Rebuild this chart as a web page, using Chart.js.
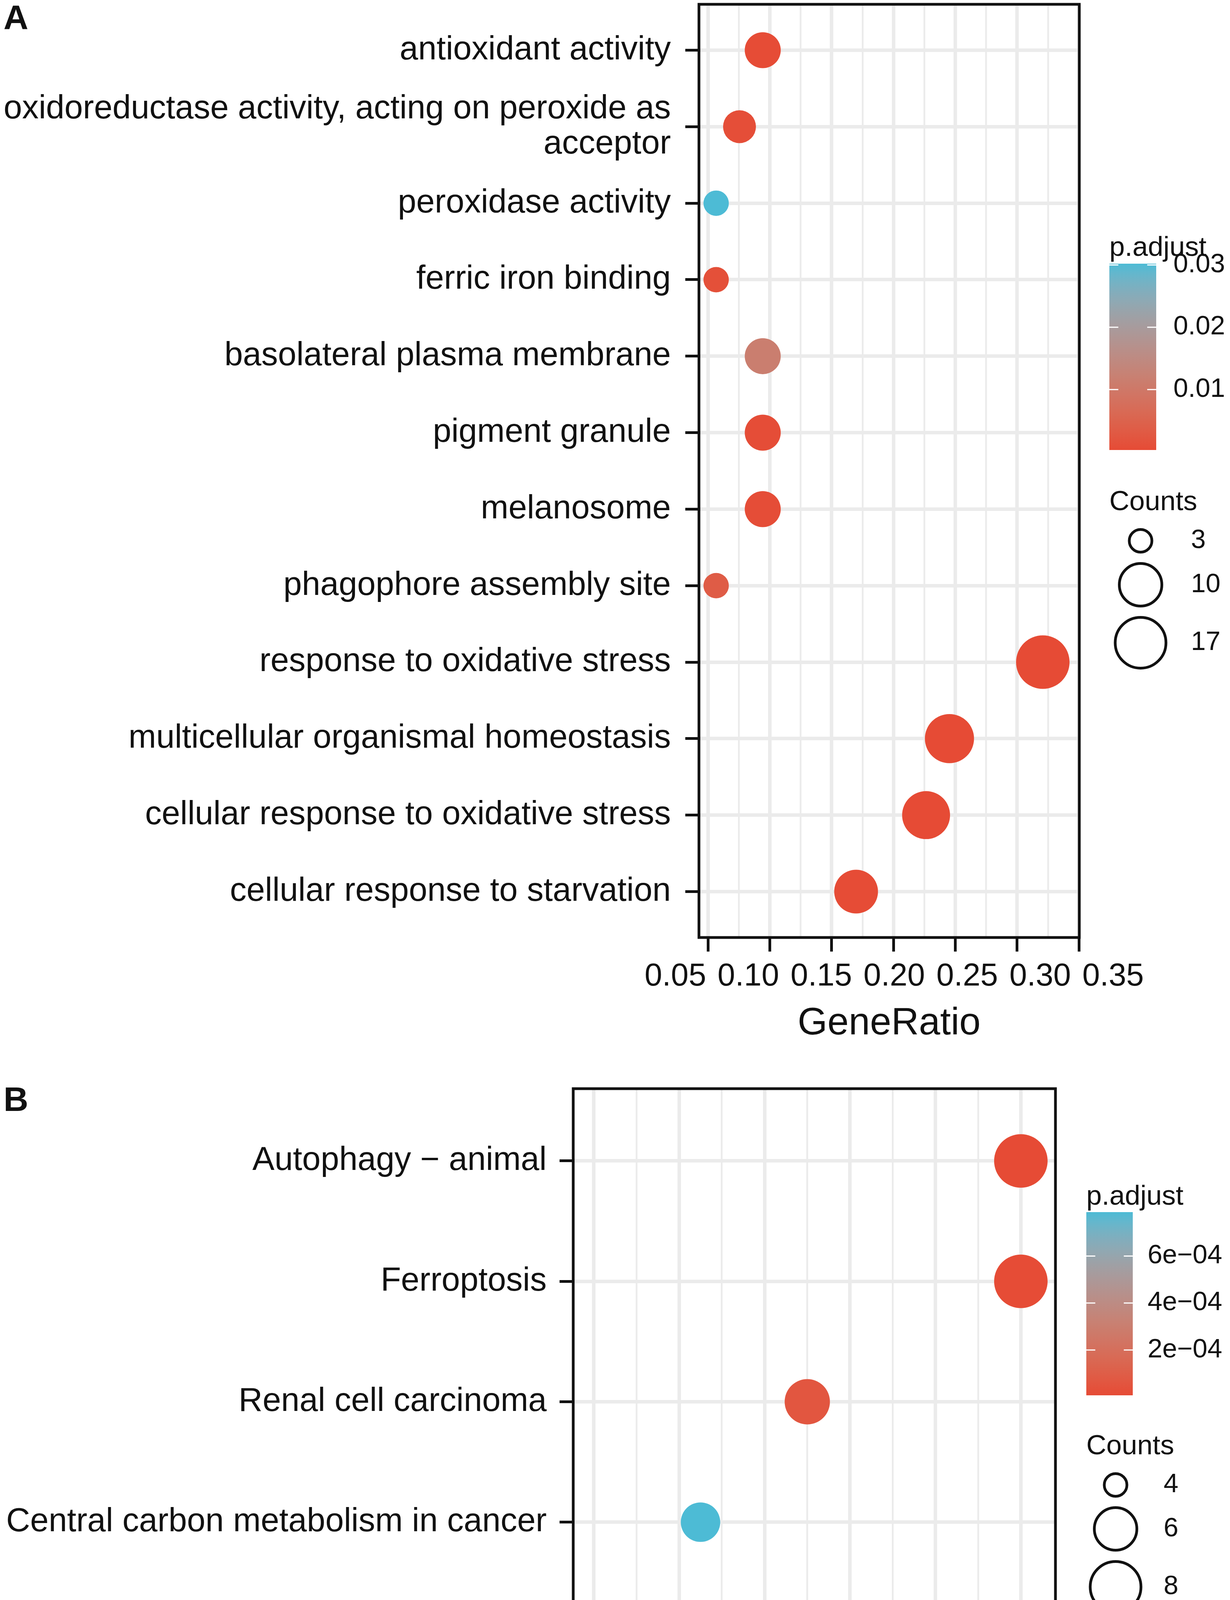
<!DOCTYPE html>
<html>
<head>
<meta charset="utf-8">
<script src="https://cdn.jsdelivr.net/npm/chart.js@4.4.1/dist/chart.umd.min.js"></script>
<style>
  html, body { margin: 0; padding: 0; background: #fff; }
  body { width: 3150px; height: 4646px; position: relative; overflow: hidden; }
  .panel { position: absolute; left: 0; width: 3150px; }
  #wrapA { top: 0; height: 2760px; }
  #wrapB { top: 2760px; height: 1886px; }
</style>
</head>
<body>
<div class="panel" id="wrapA"><canvas id="chartA"></canvas></div>
<div class="panel" id="wrapB"><canvas id="chartB"></canvas></div>
<script>
// ---- panel A: GO terms ----
const termsA = [
    'antioxidant activity',
    'oxidoreductase activity, acting on peroxide as acceptor',
    'peroxidase activity',
    'ferric iron binding',
    'basolateral plasma membrane',
    'pigment granule',
    'melanosome',
    'phagophore assembly site',
    'response to oxidative stress',
    'multicellular organismal homeostasis',
    'cellular response to oxidative stress',
    'cellular response to starvation'
];
const geneRatioA = [0.0943, 0.0755, 0.0566, 0.0566, 0.0943, 0.0943, 0.0943, 0.0566, 0.3208, 0.2453, 0.2264, 0.1698];
const countA = [5, 4, 3, 3, 5, 5, 5, 3, 17, 13, 12, 9];
const pAdjustA = [0.0005, 0.0008, 0.0302, 0.0011, 0.0115, 0.0006, 0.0006, 0.0035, 0.0003, 0.0003, 0.0003, 0.0004];
const xTicksA = [0.05, 0.10, 0.15, 0.20, 0.25, 0.30, 0.35];
const colourBreaksA = [0.01, 0.02, 0.03];
const colourLabelsA = ['0.01', '0.02', '0.03'];
const sizeBreaksA = [3, 10, 17];

// ---- panel B: KEGG pathways ----
const termsB = [
    'Autophagy \u2212 animal',
    'Ferroptosis',
    'Renal cell carcinoma',
    'Central carbon metabolism in cancer',
    'Autophagy \u2212 other'
];
const geneRatioB = [0.20, 0.20, 0.15, 0.125, 0.10];
const countB = [8, 8, 6, 5, 4];
const pAdjustB = [0.000007, 0.000010, 0.000060, 0.000787, 0.000740];
const xTicksB = [0.10, 0.12, 0.14, 0.16, 0.18, 0.20];
const colourBreaksB = [0.0002, 0.0004, 0.0006];
const colourLabelsB = ['2e\u221204', '4e\u221204', '6e\u221204'];
const sizeBreaksB = [4, 6, 8];

const FONT = '"Liberation Sans", Arial, Helvetica, sans-serif';
const INK = '#111';
const LOW = '#E64B35';
const HIGH = '#4DBBD5';
const TICK_FONT = 81;

Chart.defaults.font.family = FONT;
Chart.defaults.color = INK;

// colour gradient interpolated in Lab space (like ggplot)
function toLab(hex) {
    const c = [1, 3, 5].map(i => parseInt(hex.substr(i, 2), 16) / 255)
        .map(v => v <= 0.04045 ? v / 12.92 : Math.pow((v + 0.055) / 1.055, 2.4));
    const X = (0.4124 * c[0] + 0.3576 * c[1] + 0.1805 * c[2]) / 0.95047;
    const Y = 0.2126 * c[0] + 0.7152 * c[1] + 0.0722 * c[2];
    const Z = (0.0193 * c[0] + 0.1192 * c[1] + 0.9505 * c[2]) / 1.08883;
    const f = t => t > 0.008856 ? Math.cbrt(t) : 7.787 * t + 16 / 116;
    return [116 * f(Y) - 16, 500 * (f(X) - f(Y)), 200 * (f(Y) - f(Z))];
}
function fromLab(L, a, b) {
    const fy = (L + 16) / 116, fx = fy + a / 500, fz = fy - b / 200;
    const inv = t => t * t * t > 0.008856 ? t * t * t : (t - 16 / 116) / 7.787;
    const X = inv(fx) * 0.95047, Y = inv(fy), Z = inv(fz) * 1.08883;
    const lin = [
        3.2406 * X - 1.5372 * Y - 0.4986 * Z,
        -0.9689 * X + 1.8758 * Y + 0.0415 * Z,
        0.0557 * X - 0.2040 * Y + 1.0570 * Z
    ];
    const rgb = lin.map(v => v <= 0.0031308 ? 12.92 * v : 1.055 * Math.pow(v, 1 / 2.4) - 0.055)
        .map(v => Math.round(Math.min(1, Math.max(0, v)) * 255));
    return `rgb(${rgb[0]}, ${rgb[1]}, ${rgb[2]})`;
}
const labLow = toLab(LOW), labHigh = toLab(HIGH);
function colourAt(t) {
    return fromLab(...labLow.map((v, i) => v + (labHigh[i] - v) * t));
}

// dot diameter in px, area-style size scale
function dotDiameter(count, lo, hi) {
    return 65 + 72 * Math.sqrt((count - lo) / (hi - lo));
}

function wrapLabel(text) {
    if (text.length <= 50) return text;
    const words = text.split(' ');
    const lines = [''];
    words.forEach(w => {
        const cur = lines[lines.length - 1];
        if (cur && (cur + ' ' + w).length > 47) lines.push(w);
        else lines[lines.length - 1] = cur ? cur + ' ' + w : w;
    });
    return lines;
}

// panel border + (optionally) x tick labels spread out like the original figure
const panelBox = {
    id: 'panelBox',
    afterDatasetsDraw(chart, args, o) {
        const {ctx, chartArea: a} = chart;
        ctx.save();
        ctx.strokeStyle = INK;
        ctx.lineWidth = 7;
        ctx.strokeRect(a.left, a.top, a.right - a.left, a.bottom - a.top);

        if (o.labelSpread) {
            const xs = chart.scales.x;
            const mid = (xs.left + xs.right) / 2;
            const y = xs.top + 36 + o.labelPad + TICK_FONT * 0.6;
            ctx.fillStyle = INK;
            ctx.font = `${TICK_FONT}px ${FONT}`;
            ctx.textAlign = 'center';
            ctx.textBaseline = 'middle';
            o.ticks.forEach(v => {
                const px = mid + (xs.getPixelForValue(v) - mid) * o.labelSpread;
                ctx.fillText(v.toFixed(2), px, y);
            });
        }
        ctx.restore();
    }
};

const dotLegend = {
    id: 'dotLegend',
    afterDraw(chart, args, o) {
        const ctx = chart.ctx;
        ctx.save();
        ctx.fillStyle = INK;
        ctx.textAlign = 'left';
        ctx.textBaseline = 'alphabetic';
        ctx.font = `bold ${o.tagSize}px ${FONT}`;
        ctx.fillText(o.tag, o.tagX, o.tagBaseline);

        // colour bar
        ctx.font = `${o.titleSize}px ${FONT}`;
        ctx.fillText('p.adjust', o.x, o.titleBaseline);
        const g = ctx.createLinearGradient(0, o.barBottom, 0, o.barTop);
        for (let i = 0; i <= 20; i++) g.addColorStop(i / 20, colourAt(i / 20));
        ctx.fillStyle = g;
        ctx.fillRect(o.x, o.barTop, o.barWidth, o.barBottom - o.barTop);
        const [lo, hi] = o.colourLimits;
        const yOf = v => o.barBottom - (v - lo) / (hi - lo) * (o.barBottom - o.barTop);
        ctx.strokeStyle = '#fff';
        ctx.lineWidth = 3;
        ctx.font = `${o.labelSize}px ${FONT}`;
        ctx.textBaseline = 'middle';
        o.colourBreaks.forEach((v, i) => {
            const y = yOf(v);
            if (y >= o.barTop && y <= o.barBottom) {
                ctx.beginPath();
                ctx.moveTo(o.x, y); ctx.lineTo(o.x + 23, y);
                ctx.moveTo(o.x + o.barWidth - 23, y); ctx.lineTo(o.x + o.barWidth, y);
                ctx.stroke();
            }
            ctx.fillStyle = INK;
            ctx.fillText(o.colourLabels[i], o.barLabelX, y);
        });

        // size legend
        ctx.textBaseline = 'alphabetic';
        ctx.font = `${o.titleSize}px ${FONT}`;
        ctx.fillText('Counts', o.x, o.countsBaseline);
        const [sLo, sHi] = o.sizeLimits;
        let prev = null, cy = 0;
        ctx.strokeStyle = INK;
        ctx.lineWidth = 7;
        ctx.textBaseline = 'middle';
        ctx.font = `${o.labelSize}px ${FONT}`;
        o.sizeBreaks.forEach(s => {
            const d = dotDiameter(s, sLo, sHi);
            cy = prev === null ? o.countsBaseline + 46 + d / 2 : cy + (prev + d) / 2 + 22;
            prev = d;
            ctx.beginPath();
            ctx.arc(o.circleX, cy, d / 2 - 3.5, 0, Math.PI * 2);
            ctx.stroke();
            ctx.fillText(String(s), o.sizeLabelX, cy);
        });
        ctx.restore();
    }
};

function makeDotPlot(id, d, lay) {
    const cLo = Math.min(...d.padj), cHi = Math.max(...d.padj);
    const sLo = Math.min(...d.count), sHi = Math.max(...d.count);
    const points = d.terms.map((t, i) => ({
        x: d.ratio[i],
        y: i,
        r: dotDiameter(d.count[i], sLo, sHi) / 2
    }));
    const colours = d.padj.map(v => colourAt((v - cLo) / (cHi - cLo)));

    return new Chart(document.getElementById(id), {
        type: 'bubble',
        data: {
            datasets: [{
                data: points,
                backgroundColor: colours,
                borderWidth: 0,
                hoverBorderWidth: 0
            }]
        },
        options: {
            responsive: true,
            maintainAspectRatio: false,
            animation: false,
            events: [],
            layout: {
                autoPadding: false,
                padding: { left: 0, top: lay.top, right: lay.right, bottom: 0 }
            },
            scales: {
                x: {
                    type: 'linear',
                    min: lay.xMin,
                    max: lay.xMax,
                    border: { display: false },
                    afterBuildTicks: (scale) => {
                        const t = [];
                        d.xTicks.forEach((v, i) => {
                            t.push({ value: v, isMajor: true });
                            if (i < d.xTicks.length - 1) t.push({ value: (v + d.xTicks[i + 1]) / 2, isMajor: false });
                        });
                        scale.ticks = t;
                    },
                    afterFit: (scale) => {
                        scale.height = lay.xAxisHeight;
                        scale.paddingLeft = 0;
                        scale.paddingRight = 0;
                    },
                    grid: {
                        color: '#EBEBEB',
                        lineWidth: (c) => (c.tick && c.tick.isMajor) ? 9 : 4.5,
                        tickColor: (c) => (c.tick && c.tick.isMajor) ? INK : 'rgba(0,0,0,0)',
                        tickWidth: 7,
                        tickLength: 36
                    },
                    ticks: {
                        display: !lay.labelSpread,
                        autoSkip: false,
                        maxRotation: 0,
                        minRotation: 0,
                        padding: lay.xLabelPad,
                        color: INK,
                        font: { size: TICK_FONT },
                        callback: (value, index, ticks) => ticks[index].isMajor ? value.toFixed(2) : ''
                    },
                    title: {
                        display: true,
                        text: 'GeneRatio',
                        color: INK,
                        font: { size: 98, lineHeight: 0.8 },
                        padding: { top: 0, bottom: lay.titlePad }
                    }
                },
                y: {
                    type: 'linear',
                    reverse: true,
                    min: -0.6,
                    max: d.terms.length - 0.4,
                    border: { display: false },
                    afterBuildTicks: (scale) => {
                        scale.ticks = d.terms.map((t, i) => ({ value: i }));
                    },
                    afterFit: (scale) => {
                        scale.width = lay.yAxisWidth;
                        scale.paddingTop = 0;
                        scale.paddingBottom = 0;
                    },
                    grid: {
                        color: '#EBEBEB',
                        lineWidth: 9,
                        tickColor: INK,
                        tickWidth: 7,
                        tickLength: 35
                    },
                    ticks: {
                        autoSkip: false,
                        padding: lay.yLabelPad,
                        color: INK,
                        font: { size: 85, lineHeight: 1.06 },
                        callback: (value) => wrapLabel(d.terms[value])
                    }
                }
            },
            plugins: {
                legend: { display: false },
                tooltip: { enabled: false },
                panelBox: { labelSpread: lay.labelSpread, labelPad: lay.xLabelPad, ticks: d.xTicks },
                dotLegend: Object.assign({
                    colourLimits: [cLo, cHi],
                    sizeLimits: [sLo, sHi],
                    colourBreaks: d.colourBreaks,
                    colourLabels: d.colourLabels,
                    sizeBreaks: d.sizeBreaks,
                    tagSize: 88,
                    titleSize: 71,
                    labelSize: 68
                }, lay.legend)
            }
        },
        plugins: [panelBox, dotLegend]
    });
}

makeDotPlot('chartA', {
    terms: termsA, ratio: geneRatioA, count: countA, padj: pAdjustA,
    xTicks: xTicksA, colourBreaks: colourBreaksA, colourLabels: colourLabelsA, sizeBreaks: sizeBreaksA
}, {
    top: 11, right: 386, yAxisWidth: 1790, xAxisHeight: 360,
    xMin: 0.0427, xMax: 0.3503,
    yLabelPad: 37, xLabelPad: 16, titlePad: 100, labelSpread: 1.18,
    legend: {
        tag: 'A', tagX: 9, tagBaseline: 74,
        x: 2841, titleBaseline: 655,
        barTop: 675, barBottom: 1152, barWidth: 120, barLabelX: 3005,
        countsBaseline: 1306, circleX: 2921, sizeLabelX: 3050
    }
});

makeDotPlot('chartB', {
    terms: termsB, ratio: geneRatioB, count: countB, padj: pAdjustB,
    xTicks: xTicksB, colourBreaks: colourBreaksB, colourLabels: colourLabelsB, sizeBreaks: sizeBreaksB
}, {
    top: 27, right: 447, yAxisWidth: 1468, xAxisHeight: 256,
    xMin: 0.0952, xMax: 0.2081,
    yLabelPad: 33, xLabelPad: 17, titlePad: 0, labelSpread: null,
    legend: {
        tag: 'B', tagX: 9, tagBaseline: 84,
        x: 2782, titleBaseline: 324,
        barTop: 343, barBottom: 812, barWidth: 119, barLabelX: 2939,
        countsBaseline: 963, circleX: 2857, sizeLabelX: 2980
    }
});
</script>
</body>
</html>
